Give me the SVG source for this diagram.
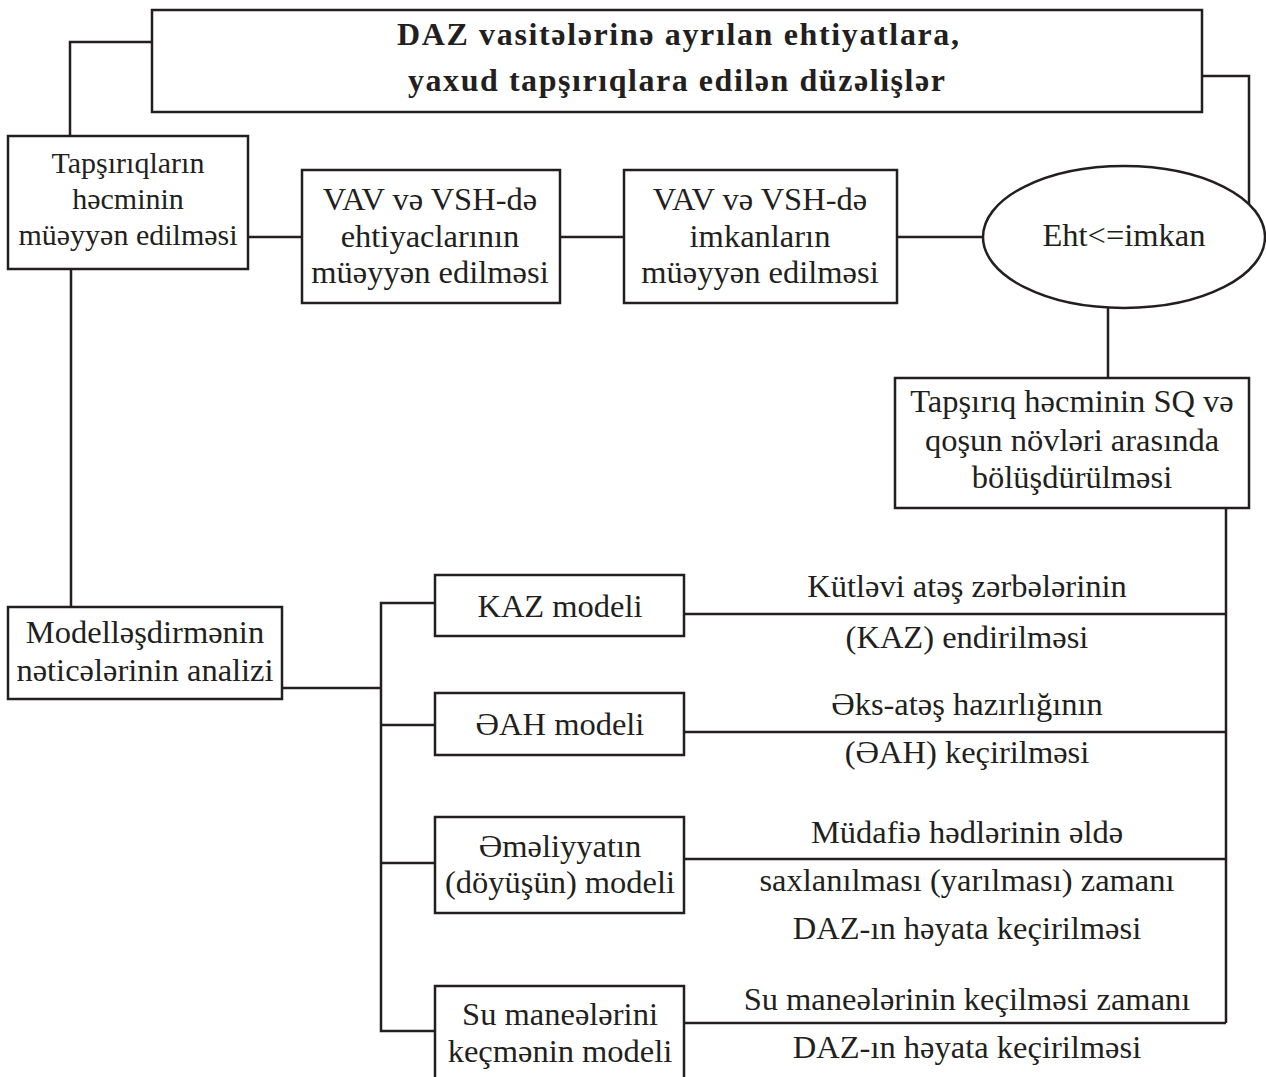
<svg xmlns="http://www.w3.org/2000/svg" width="1266" height="1077" viewBox="0 0 1266 1077">
<style>
.box{fill:#fff;stroke:#231f20;stroke-width:2.5}
.ln{fill:none;stroke:#231f20;stroke-width:2.5}
text{font-family:"Liberation Serif","Times New Roman",serif;font-size:32.5px;fill:#231f20;text-anchor:middle}
.b{font-weight:bold;font-size:32px;text-anchor:start}
.s{font-size:30px}
</style>
<rect width="1266" height="1077" fill="#fff"/>
<g id="connectors">
<polyline class="ln" points="152,42 70,42 70,136"/>
<polyline class="ln" points="1202,76 1249,76 1249,205"/>
<line class="ln" x1="248" y1="237" x2="302" y2="237"/>
<line class="ln" x1="560" y1="237" x2="624" y2="237"/>
<line class="ln" x1="897" y1="237" x2="983" y2="237"/>
<line class="ln" x1="1108" y1="308" x2="1108" y2="378"/>
<line class="ln" x1="71" y1="270" x2="71" y2="607"/>
<line class="ln" x1="281" y1="688" x2="381" y2="688"/>
<polyline class="ln" points="435,603 381,603 381,1031 435,1031"/>
<line class="ln" x1="381" y1="725" x2="435" y2="725"/>
<line class="ln" x1="381" y1="863" x2="435" y2="863"/>
<line class="ln" x1="1226" y1="508" x2="1226" y2="1023"/>
<line class="ln" x1="684" y1="614" x2="1226" y2="614"/>
<line class="ln" x1="684" y1="732" x2="1226" y2="732"/>
<line class="ln" x1="684" y1="859" x2="1226" y2="859"/>
<line class="ln" x1="684" y1="1023" x2="1226" y2="1023"/>
</g>
<g id="n-top">
<rect class="box" x="152" y="10" width="1050" height="102"/>
<text class="b" x="397" y="45" textLength="562" lengthAdjust="spacing">DAZ vasitələrinə ayrılan ehtiyatlara,</text>
<text class="b" x="408" y="91" textLength="537" lengthAdjust="spacing">yaxud tapşırıqlara edilən düzəlişlər</text>
</g>
<g id="n-tapsiriqlarin">
<rect class="box" x="8" y="136" width="240" height="133"/>
<text class="s" x="128" y="173">Tapşırıqların</text>
<text class="s" x="128" y="209">həcminin</text>
<text class="s" x="128" y="245">müəyyən edilməsi</text>
</g>
<g id="n-ehtiyac">
<rect class="box" x="302" y="170" width="258" height="133"/>
<text x="430" y="210">VAV və VSH-də</text>
<text x="430" y="247">ehtiyaclarının</text>
<text x="430" y="283">müəyyən edilməsi</text>
</g>
<g id="n-imkan">
<rect class="box" x="624" y="170" width="273" height="133"/>
<text x="760" y="210">VAV və VSH-də</text>
<text x="760" y="247">imkanların</text>
<text x="760" y="283">müəyyən edilməsi</text>
</g>
<g id="n-eht">
<ellipse class="box" cx="1124" cy="237" rx="141" ry="71"/>
<text x="1124" y="246">Eht&lt;=imkan</text>
</g>
<g id="n-bolusdurulmesi">
<rect class="box" x="895" y="378" width="354" height="130"/>
<text x="1072" y="412">Tapşırıq həcminin SQ və</text>
<text x="1072" y="451">qoşun növləri arasında</text>
<text x="1072" y="488">bölüşdürülməsi</text>
</g>
<g id="n-analiz">
<rect class="box" x="8" y="607" width="274" height="92"/>
<text x="145" y="643">Modelləşdirmənin</text>
<text x="145" y="681">nəticələrinin analizi</text>
</g>
<g id="n-kaz">
<rect class="box" x="435" y="575" width="249" height="61"/>
<text x="560" y="617">KAZ modeli</text>
</g>
<g id="n-eah">
<rect class="box" x="435" y="693" width="249" height="62"/>
<text x="560" y="735">ƏAH modeli</text>
</g>
<g id="n-emeliyyat">
<rect class="box" x="435" y="817" width="249" height="96"/>
<text x="560" y="857">Əməliyyatın</text>
<text x="560" y="893">(döyüşün) modeli</text>
</g>
<g id="n-su">
<rect class="box" x="435" y="986" width="249" height="100"/>
<text x="560" y="1025">Su maneələrini</text>
<text x="560" y="1062">keçmənin modeli</text>
</g>
<g id="labels">
<text x="967" y="597">Kütləvi atəş zərbələrinin</text>
<text x="967" y="648">(KAZ) endirilməsi</text>
<text x="967" y="715">Əks-atəş hazırlığının</text>
<text x="967" y="763">(ƏAH) keçirilməsi</text>
<text x="967" y="843">Müdafiə hədlərinin əldə</text>
<text x="967" y="891">saxlanılması (yarılması) zamanı</text>
<text x="967" y="939">DAZ-ın həyata keçirilməsi</text>
<text x="967" y="1010">Su maneələrinin keçilməsi zamanı</text>
<text x="967" y="1058">DAZ-ın həyata keçirilməsi</text>
</g>
</svg>
